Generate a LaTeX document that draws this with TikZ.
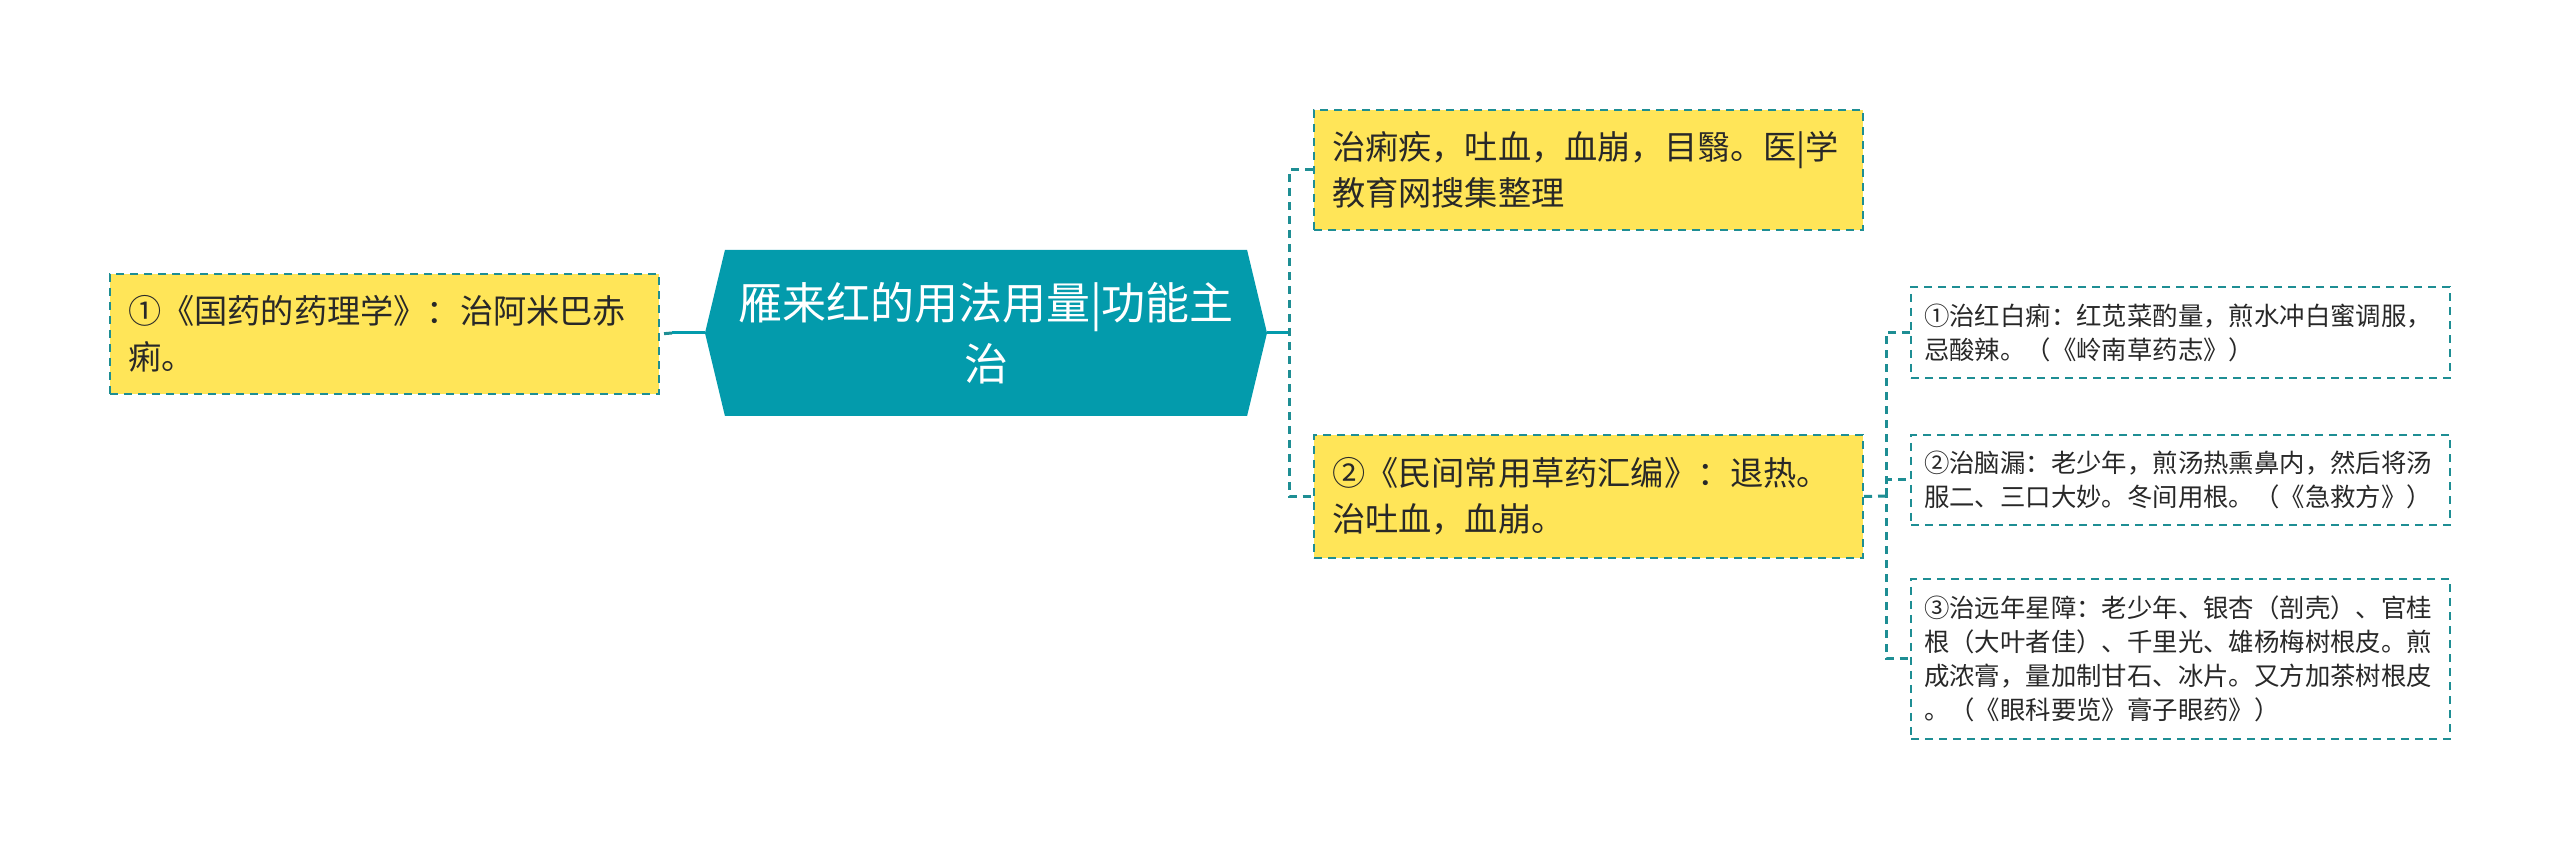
\documentclass[tikz,border=0pt]{standalone}
\usepackage{fontspec}
\setmainfont{Noto Sans CJK SC}
\usetikzlibrary{shapes.symbols}

\definecolor{rootteal}{RGB}{3,155,172}
\definecolor{leafyellow}{RGB}{255,229,88}
\definecolor{lineteal}{RGB}{30,142,148}
\definecolor{inktext}{RGB}{40,40,40}

\begin{document}
\begin{tikzpicture}[x=0.5pt,y=-0.5pt,
	rootnode/.style={shape=signal, signal to=west and east, signal pointer angle=153,
		fill=rootteal, text=white, minimum width=281pt, minimum height=83pt, inner sep=0pt,
		align=center, font=\fontsize{22}{30.5}\selectfont},
	bignote/.style={draw=lineteal, line width=1pt, dash pattern=on 4pt off 3pt, fill=leafyellow,
		text=inktext, anchor=north west, align=left, inner xsep=9pt, inner ysep=0pt,
		text width=256.5pt, minimum height=60pt, font=\fontsize{16.6}{23}\selectfont},
	smallnote/.style={draw=lineteal, line width=1pt, dash pattern=on 4pt off 3pt, fill=white,
		text=inktext, anchor=north west, align=left, inner xsep=6.5pt, inner ysep=0pt,
		text width=256.5pt, font=\fontsize{12.7}{17}\selectfont},
	solidlink/.style={draw=rootteal, line width=1.5pt},
	dashlink/.style={draw=lineteal, line width=1.5pt, dash pattern=on 4pt off 3pt}]
	
	\useasboundingbox (0,0) rectangle (2560,849);
	
	% Root
	\node[rootnode] (root) at (986,333) {雁来红的用法用量|功能主\\治};
	
	% Left branch
	\node[bignote] (guoyao) at (109,273) {①《国药的药理学》：治阿米巴赤\\痢。};
	\coordinate (ljoin) at (672,333);
	\draw[solidlink] (root.west) -- (ljoin);
	\draw[dashlink] (ljoin) -- (guoyao.east);
	
	% Right branches
	\node[bignote] (zhili) at (1313,109) {治痢疾，吐血，血崩，目翳。医|学\\教育网搜集整理};
	\node[bignote, minimum height=61.5pt] (minjian) at (1313,434) {②《民间常用草药汇编》：退热。\\治吐血，血崩。};
	\coordinate (rjoin) at (1289,333);
	\draw[solidlink] (root.east) -- (rjoin);
	\draw[dashlink] (zhili.west) -| (rjoin) |- (minjian.west);
	
	% Sub notes
	\node[smallnote, minimum height=45.5pt] (hongbai) at (1910,286) {①治红白痢：红苋菜酌量，煎水冲白蜜调服，\\忌酸辣。（《岭南草药志》）};
	\node[smallnote, minimum height=45pt] (naolou) at (1910,434) {②治脑漏：老少年，煎汤热熏鼻内，然后将汤\\服二、三口大妙。冬间用根。（《急救方》）};
	\node[smallnote, minimum height=80pt] (xingzhang) at (1910,578) {③治远年星障：老少年、银杏（剖壳）、官桂\\根（大叶者佳）、千里光、雄杨梅树根皮。煎\\成浓膏，量加制甘石、冰片。又方加茶树根皮\\。（《眼科要览》膏子眼药》）};
	\coordinate (mjoin) at (1886,496);
	\draw[dashlink] (minjian.east) -- (mjoin);
	\draw[dashlink] (hongbai.west) -| (mjoin) |- (xingzhang.west);
	\draw[dashlink] (mjoin) |- (naolou.west);
	
\end{tikzpicture}
\end{document}
